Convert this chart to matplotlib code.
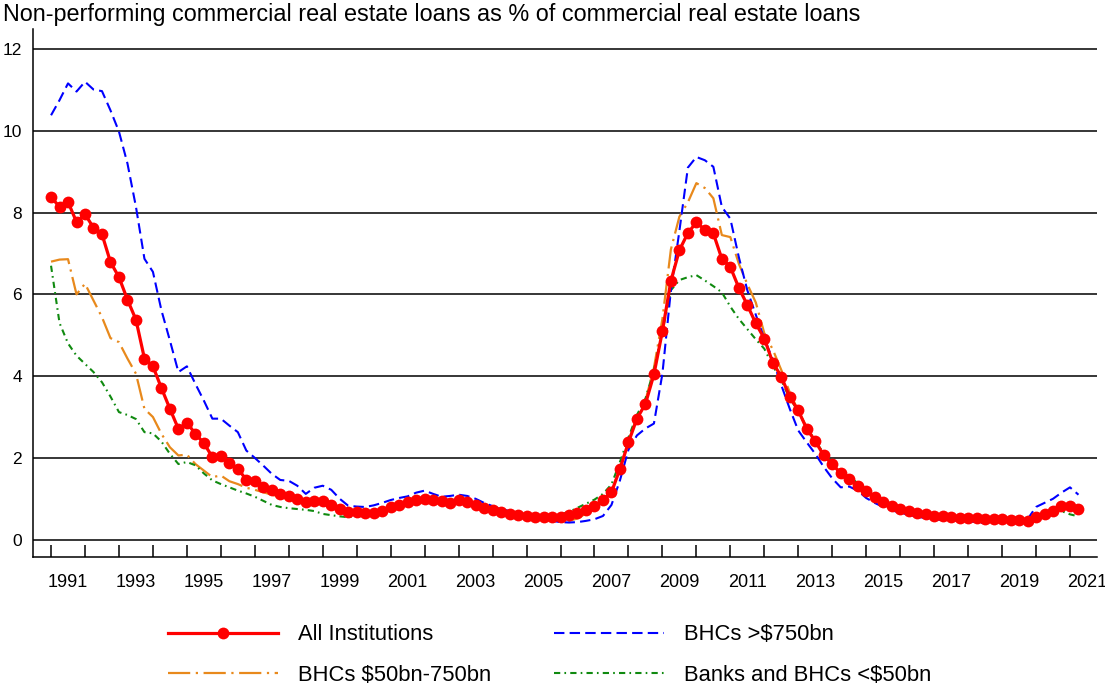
import matplotlib
matplotlib.use("Agg")
import matplotlib.pyplot as plt
import numpy as np
import pandas as pd

plt.rcParams['font.family'] = ['Liberation Sans', 'DejaVu Sans']

# quarterly data, 1990Q4 - 2021Q1
quarters = pd.period_range('1990Q4', '2021Q1', freq='Q')

all_inst = [8.38, 8.14, 8.26, 7.77, 7.96, 7.63, 7.47, 6.79, 6.42, 5.87,
            5.38, 4.43, 4.24, 3.71, 3.20, 2.71, 2.86, 2.59, 2.36, 2.02,
            2.04, 1.88, 1.73, 1.47, 1.43, 1.30, 1.22, 1.12, 1.08, 1.00,
            0.91, 0.94, 0.94, 0.86, 0.75, 0.67, 0.68, 0.66, 0.66, 0.70,
            0.79, 0.86, 0.92, 0.97, 1.00, 0.97, 0.95, 0.90, 0.97, 0.93,
            0.85, 0.78, 0.72, 0.68, 0.64, 0.61, 0.59, 0.56, 0.55, 0.55,
            0.56, 0.60, 0.66, 0.72, 0.82, 0.96, 1.16, 1.73, 2.38, 2.96,
            3.32, 4.04, 5.10, 6.33, 7.08, 7.50, 7.76, 7.58, 7.49, 6.87,
            6.67, 6.16, 5.74, 5.29, 4.92, 4.33, 3.99, 3.49, 3.16, 2.71,
            2.41, 2.06, 1.85, 1.62, 1.49, 1.32, 1.20, 1.04, 0.91, 0.83,
            0.75, 0.71, 0.65, 0.62, 0.59, 0.57, 0.55, 0.54, 0.53, 0.52,
            0.51, 0.51, 0.50, 0.49, 0.48, 0.45, 0.55, 0.63, 0.71, 0.83,
            0.83, 0.75]

bhc_large = [10.38, 10.75, 11.16, 10.96, 11.20, 11.01, 10.97, 10.50, 9.98, 9.20,
             8.14, 6.87, 6.55, 5.61, 4.87, 4.10, 4.24, 3.81, 3.40, 2.96,
             2.96, 2.79, 2.63, 2.18, 2.00, 1.81, 1.61, 1.46, 1.44, 1.32,
             1.12, 1.27, 1.32, 1.22, 1.00, 0.83, 0.81, 0.80, 0.84, 0.90,
             0.97, 1.02, 1.06, 1.15, 1.20, 1.12, 1.05, 1.07, 1.10, 1.07,
             1.00, 0.90, 0.82, 0.75, 0.70, 0.64, 0.60, 0.54, 0.49, 0.46,
             0.43, 0.42, 0.43, 0.46, 0.50, 0.58, 0.85, 1.45, 2.20, 2.55,
             2.72, 2.84, 4.06, 6.10, 7.55, 9.10, 9.36, 9.28, 9.12, 8.14,
             7.85, 6.91, 6.10, 5.50, 4.92, 4.40, 3.78, 3.20, 2.67, 2.38,
             2.10, 1.78, 1.50, 1.28, 1.30, 1.20, 1.02, 0.90, 0.80, 0.72,
             0.66, 0.61, 0.56, 0.53, 0.50, 0.48, 0.47, 0.46, 0.45, 0.43,
             0.40, 0.45, 0.46, 0.44, 0.42, 0.50, 0.80, 0.90, 1.00, 1.15,
             1.28, 1.10]

bhc_mid = [6.80, 6.85, 6.86, 6.00, 6.26, 5.85, 5.44, 4.93, 4.83, 4.43,
           4.06, 3.20, 3.00, 2.59, 2.26, 2.06, 2.08, 1.85, 1.69, 1.53,
           1.57, 1.43, 1.36, 1.27, 1.22, 1.16, 1.10, 1.05, 1.02, 0.97,
           0.90, 0.86, 0.85, 0.83, 0.74, 0.68, 0.66, 0.65, 0.66, 0.70,
           0.76, 0.82, 0.86, 0.89, 0.90, 0.89, 0.88, 0.85, 0.92, 0.88,
           0.82, 0.75, 0.70, 0.65, 0.61, 0.58, 0.55, 0.52, 0.50, 0.49,
           0.47, 0.46, 0.52, 0.64, 0.78, 0.98, 1.20, 1.75, 2.40, 3.00,
           3.40, 4.20, 5.40, 7.10, 7.90, 8.25, 8.72, 8.60, 8.35, 7.45,
           7.40, 6.75, 6.25, 5.80, 5.05, 4.65, 4.15, 3.60, 3.15, 2.75,
           2.42, 2.08, 1.83, 1.60, 1.45, 1.28, 1.15, 1.00, 0.88, 0.80,
           0.73, 0.68, 0.62, 0.58, 0.55, 0.53, 0.51, 0.50, 0.49, 0.48,
           0.47, 0.47, 0.46, 0.45, 0.44, 0.43, 0.55, 0.63, 0.72, 0.88,
           0.88, 0.80]

small_banks = [6.70, 5.30, 4.80, 4.50, 4.30, 4.10, 3.85, 3.50, 3.12, 3.05,
               2.95, 2.63, 2.60, 2.40, 2.10, 1.85, 1.90, 1.82, 1.62, 1.45,
               1.36, 1.28, 1.20, 1.13, 1.05, 0.95, 0.85, 0.80, 0.77, 0.75,
               0.73, 0.70, 0.63, 0.60, 0.57, 0.55, 0.57, 0.59, 0.64, 0.70,
               0.77, 0.83, 0.88, 0.92, 0.94, 0.93, 0.92, 0.90, 0.95, 0.92,
               0.86, 0.80, 0.74, 0.70, 0.66, 0.63, 0.60, 0.58, 0.57, 0.58,
               0.62, 0.68, 0.78, 0.88, 0.98, 1.12, 1.35, 1.90, 2.50, 3.05,
               3.45, 4.15, 5.10, 6.10, 6.35, 6.42, 6.47, 6.34, 6.20, 6.05,
               5.70, 5.40, 5.15, 4.90, 4.67, 4.25, 3.90, 3.45, 3.15, 2.72,
               2.43, 2.10, 1.90, 1.68, 1.55, 1.38, 1.25, 1.10, 0.97, 0.88,
               0.80, 0.75, 0.69, 0.66, 0.63, 0.61, 0.59, 0.58, 0.57, 0.56,
               0.55, 0.55, 0.54, 0.53, 0.52, 0.50, 0.57, 0.63, 0.68, 0.70,
               0.62, 0.57]

t = np.array([q.year + q.quarter / 4.0 for q in quarters])

fig = plt.figure(figsize=(11.05, 6.92), dpi=100)
ax = fig.add_axes([0.0299, 0.1947, 0.963, 0.764])

l1, = ax.plot(t, all_inst, color='#ff0000', lw=2.3, marker='o', ms=8.5,
              mec='none', label='All Institutions', zorder=5)
l3, = ax.plot(t, bhc_mid, color='#e8891c', lw=1.6, ls=(0, (10, 2.5, 1, 2.5)),
              label='BHCs $50bn-750bn', zorder=3)
l2, = ax.plot(t, bhc_large, color='#0000ff', lw=1.5, ls=(0, (5, 2.5)),
              label='BHCs >$750bn', zorder=4)
l4, = ax.plot(t, small_banks, color='#108a10', lw=1.5, ls=(0, (3, 2, 0.8, 2)),
              label='Banks and BHCs <$50bn', zorder=3)

ax.set_xlim(1990.47, 2021.8)
ax.set_ylim(-0.43, 12.5)
ax.set_yticks(range(0, 13, 2))
ax.yaxis.grid(True, color='black', lw=1.1)
ax.tick_params(axis='y', length=0, pad=8, labelsize=12.5)

# ticks at year starts, labels every other year in the middle of the year
ax.set_xticks(range(1991, 2022))
ax.set_xticklabels([])
ax.set_xticks([y + 0.5 for y in range(1991, 2022, 2)], minor=True)
ax.set_xticklabels([str(y) for y in range(1991, 2022, 2)], minor=True)
ax.tick_params(axis='x', which='major', direction='in', length=8.8, width=1.1)
ax.tick_params(axis='x', which='minor', length=0, pad=12, labelsize=13)

for s in ['top', 'right']:
    ax.spines[s].set_visible(False)
ax.spines['left'].set_linewidth(1.1)
ax.spines['bottom'].set_linewidth(1.1)

fig.text(0.003, 0.995, 'Non-performing commercial real estate loans as % of commercial real estate loans',
         fontsize=16.85, va='top', ha='left')

fig.legend(handles=[l1, l3, l2, l4], ncol=2, loc='lower left',
           bbox_to_anchor=(0.1441, -0.004), frameon=False, fontsize=15.8,
           handlelength=5.0, handletextpad=0.91, columnspacing=2.9,
           labelspacing=0.9, borderaxespad=0)

plt.savefig('out.png', dpi=100)
